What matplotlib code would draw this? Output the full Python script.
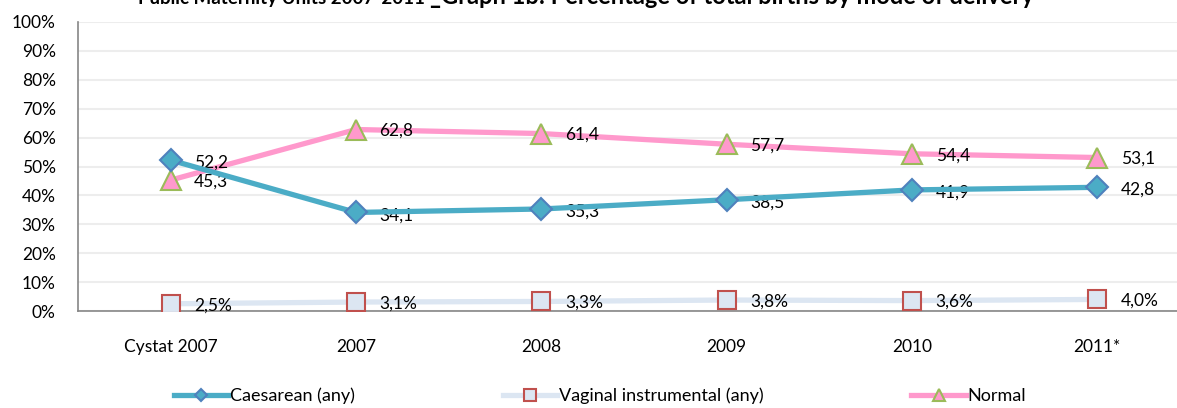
import matplotlib
matplotlib.use('Agg')
import matplotlib.pyplot as plt
from matplotlib.ticker import FuncFormatter

categories = ['Cystat 2007', '2007', '2008', '2009', '2010', '2011*']
caesarean = [52.2, 34.1, 35.3, 38.5, 41.9, 42.8]
vaginal = [2.5, 3.1, 3.3, 3.8, 3.6, 4.0]
normal = [45.3, 62.8, 61.4, 57.7, 54.4, 53.1]

plt.rcParams['font.family'] = ['Lato', 'DejaVu Sans']

fig = plt.figure(figsize=(11.77, 4.08), dpi=100)
ax = fig.add_axes([78 / 1177, 97 / 408, 1112 / 1177, 289 / 408])

x = range(len(categories))

# lines (drawn in legend order)
ax.plot(x, caesarean, color='#4BACC6', lw=3.8, marker='D', ms=11,
        mfc='#4BACC6', mec='#4F81BD', mew=1.5, label='Caesarean (any)', zorder=4)
ax.plot(x, vaginal, color='#DCE6F2', lw=3.8, marker='s', ms=13.5,
        mfc='#DCE6F2', mec='#C0504D', mew=1.5, label='Vaginal instrumental (any)', zorder=3)
ax.plot(x, normal, color='#FF99CC', lw=3.8, marker='^', ms=14,
        mfc='#FF99CC', mec='#9BBB59', mew=1.5, label='Normal', zorder=3)

# data labels
for i in x:
    ax.annotate(f'{caesarean[i]:.1f}'.replace('.', ','), (i, caesarean[i]),
                xytext=(17, -2), textcoords='offset points', va='center', fontsize=12.5)
    ax.annotate(f'{normal[i]:.1f}'.replace('.', ','), (i, normal[i]),
                xytext=(17, -1), textcoords='offset points', va='center', fontsize=12.5)
    ax.annotate(f'{vaginal[i]:.1f}%'.replace('.', ','), (i, vaginal[i]),
                xytext=(17, -1), textcoords='offset points', va='center', fontsize=12.5)

ax.set_xlim(-0.5, len(categories) - 0.5)
ax.set_ylim(0, 100)
ax.set_yticks(range(0, 101, 10))
ax.yaxis.set_major_formatter(FuncFormatter(lambda v, p: f'{int(v)}%'))
ax.set_xticks(list(x))
ax.set_xticklabels(categories)
ax.tick_params(axis='both', length=0, labelsize=12.5)
ax.tick_params(axis='x', pad=20)
ax.tick_params(axis='y', pad=16)
ax.grid(axis='y', color='#EDEDED', lw=1.5)
ax.set_axisbelow(True)
for s in ['top', 'right']:
    ax.spines[s].set_visible(False)
ax.spines['left'].set_color('#868686')
ax.spines['bottom'].set_color('#868686')
ax.spines['left'].set_linewidth(1.2)
ax.spines['bottom'].set_linewidth(1.2)

fig.legend(loc='center', bbox_to_anchor=(600 / 1177, 12 / 408), ncol=3, frameon=False,
           fontsize=13, handlelength=3.0, handletextpad=0.1, columnspacing=8.2,
           markerscale=0.6)

# title, clipped at the top as in the original
fig.text(138 / 1177, 1 - 4 / 408, 'Public Maternity Units 2007-2011', fontsize=13.5,
         fontweight='bold', ha='left', va='baseline')
fig.text(430 / 1177, 1 - 4 / 408, '_Graph 1b: Percentage of total births by mode of delivery',
         fontsize=17, fontweight='bold', ha='left', va='baseline')

fig.savefig('out.png', dpi=100)
